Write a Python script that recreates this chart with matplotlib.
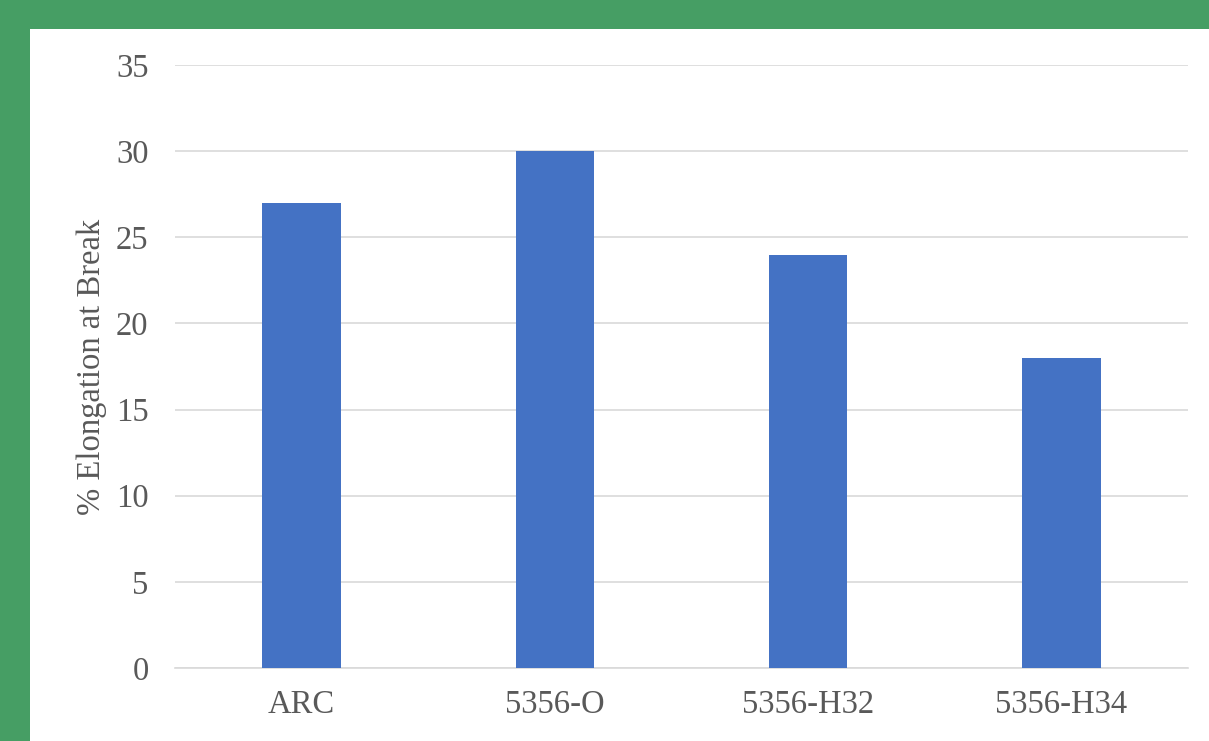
import matplotlib
matplotlib.use("Agg")
import matplotlib.pyplot as plt
from matplotlib.patches import Rectangle

categories = ["ARC", "5356-O", "5356-H32", "5356-H34"]
values = [27, 30, 24, 18]
yticks = [0, 5, 10, 15, 20, 25, 30, 35]

W, H = 1209, 741
FS = 23.5
fig = plt.figure(figsize=(W / 100, H / 100), dpi=100)
fig.patch.set_facecolor("#469E64")
fig.patches.append(Rectangle((30 / W, 0), 1 - 30 / W, 1 - 29 / H,
                             transform=fig.transFigure, facecolor="white",
                             edgecolor="none", zorder=-10))

ax = fig.add_axes([175 / W, (H - 668) / H, (1188 - 175) / W, (668 - 65) / H])
ax.set_facecolor("white")
x = range(len(categories))
ax.bar(x, values, width=0.31, color="#4472C4", zorder=3)
ax.set_xlim(-0.5, len(categories) - 0.5)
ax.set_ylim(0, 35)
ax.set_yticks(yticks)
ax.set_xticks(list(x))
ax.set_xticklabels(categories)
ax.grid(axis="y", color="#D9D9D9", linewidth=1.2, zorder=0)
for s in ["top", "right", "left"]:
    ax.spines[s].set_visible(False)
ax.spines["bottom"].set_color("#D9D9D9")
ax.spines["bottom"].set_linewidth(1.2)
ax.tick_params(axis="both", length=0, labelsize=FS, labelcolor="#595959")
ax.tick_params(axis="y", pad=19)
ax.tick_params(axis="x", pad=15.5)
for lab in ax.get_xticklabels() + ax.get_yticklabels():
    lab.set_fontfamily("Liberation Serif")
fig.text(92 / W, 1 - 367 / H, "% Elongation at Break", rotation=90,
         ha="center", va="center", fontsize=FS, color="#595959",
         fontfamily="Liberation Serif")

fig.savefig("out.png", dpi=100, facecolor=fig.get_facecolor())
